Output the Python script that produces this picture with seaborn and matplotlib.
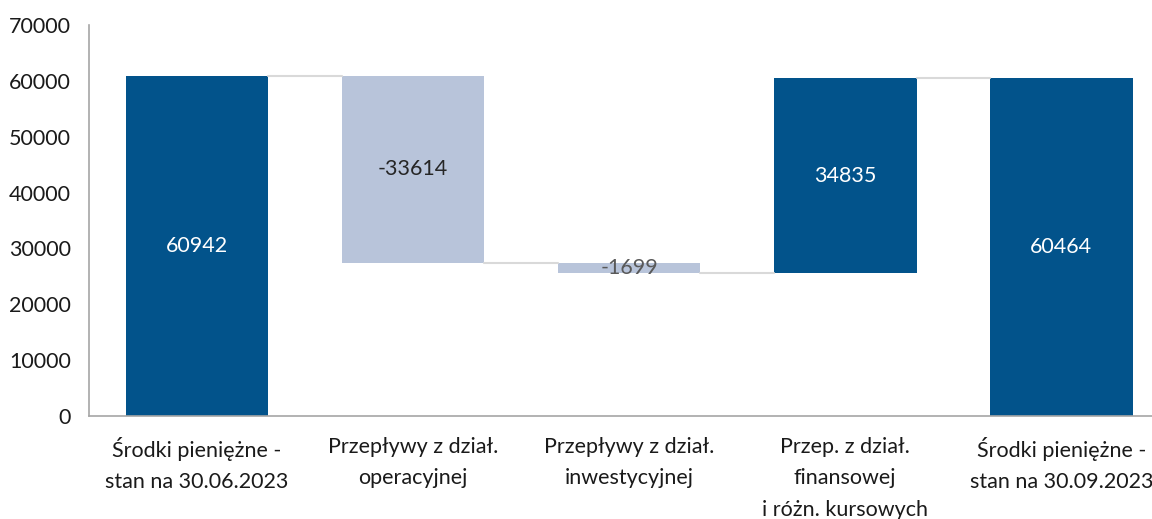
import numpy as np
import pandas as pd
import matplotlib
matplotlib.use("Agg")
import matplotlib.pyplot as plt
import seaborn as sns

# dane
categories = ["Środki pieniężne -\nstan na 30.06.2023",
              "Przepływy z dział.\noperacyjnej",
              "Przepływy z dział.\ninwestycyjnej",
              "Przep. z dział.\nfinansowej\ni różn. kursowych",
              "Środki pieniężne -\nstan na 30.09.2023"]
changes = [60942, -33614, -1699, 34835, 60464]
is_total = [True, False, False, False, True]
bar_colors = ["#02538B", "#B8C4DA", "#B8C4DA", "#02538B", "#02538B"]
label_colors = ["white", "#262626", "#595959", "white", "white"]
yticks = [0, 10000, 20000, 30000, 40000, 50000, 60000, 70000]

# podstawy słupków (waterfall)
bottoms, running = [], 0
for v, tot in zip(changes, is_total):
    if tot:
        bottoms.append(0)
        running = v
    else:
        bottoms.append(min(running, running + v))
        running += v
heights = [abs(v) for v in changes]
levels = [b + h if (v >= 0) else b for b, h, v in zip(bottoms, heights, changes)]

df = pd.DataFrame({"kat": categories, "h": heights})

sns.set_style("white")
plt.rcParams["font.family"] = ["Lato", "DejaVu Sans"]

fig = plt.figure(figsize=(11.52, 5.19), dpi=100)
ax = fig.add_axes([0.0773, 0.1985, 0.9227, 0.7533])

w = 0.66
sns.barplot(data=df, x="kat", y="h", hue="kat", palette=bar_colors,
            legend=False, width=w, saturation=1, ax=ax, linewidth=0)

# przesunięcie słupków na właściwe podstawy
for p in ax.patches:
    i = int(round(p.get_x() + p.get_width() / 2))
    p.set_y(bottoms[i])

# linie łączące
for i in range(len(changes) - 1):
    lvl = levels[i]
    ax.plot([i + w / 2, i + 1 - w / 2], [lvl, lvl], color="#D9D9D9", lw=1.5, zorder=1)

# etykiety wartości
for i, v in enumerate(changes):
    ax.text(i, bottoms[i] + heights[i] / 2, f"{v}", ha="center", va="center",
            fontsize=15.5, color=label_colors[i])

ax.set_xlim(-0.5, 4.42)
ax.set_ylim(0, 70000)
ax.set_yticks(yticks)
ax.set_yticklabels([str(t) for t in yticks])
ax.set_xlabel("")
ax.set_ylabel("")
ax.tick_params(axis="y", length=0, pad=13, labelsize=15.5, labelcolor="#1a1a1a")
ax.tick_params(axis="x", length=0, pad=15, labelsize=15.5, labelcolor="#1a1a1a")
for lab in ax.get_xticklabels():
    lab.set_linespacing(1.72)

for s in ["top", "right"]:
    ax.spines[s].set_visible(False)
ax.spines["left"].set_color("#A6A6A6")
ax.spines["bottom"].set_color("#A6A6A6")
ax.spines["left"].set_linewidth(1.2)
ax.spines["bottom"].set_linewidth(1.2)

fig.savefig("out.png", dpi=100)
